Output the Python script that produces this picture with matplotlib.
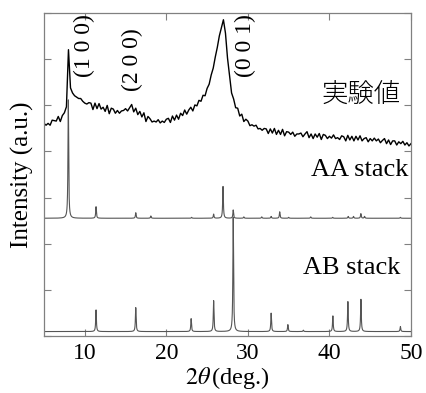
import numpy as np
import matplotlib
matplotlib.use("Agg")
import matplotlib.pyplot as plt

plt.rcParams['font.family'] = ['Liberation Serif', 'DejaVu Serif']
plt.rcParams['mathtext.fontset'] = 'stix'

# ---------------- data ----------------
# experimental pattern, 2theta from 5 to 50 deg in 0.25 deg steps
exp_start, exp_step = 5.0, 0.25
exp_y = [
    4.56, 4.61, 4.58, 4.63, 4.66, 4.62, 4.69, 4.72, 4.70, 4.77,
    4.84, 4.97, 6.21, 5.38, 5.23, 5.26, 5.15, 5.17, 5.09, 5.13,
    5.03, 5.08, 5.02, 5.04, 4.97, 5.02, 4.95, 4.99, 4.96, 4.94,
    4.90, 4.94, 4.87, 4.92, 4.88, 4.86, 4.84, 4.89, 4.86, 4.90,
    4.89, 4.93, 4.92, 4.96, 4.90, 4.92, 4.85, 4.84, 4.77, 4.79,
    4.71, 4.73, 4.67, 4.69, 4.64, 4.67, 4.63, 4.66, 4.65, 4.68,
    4.66, 4.70, 4.69, 4.72, 4.71, 4.76, 4.75, 4.79, 4.80, 4.84,
    4.85, 4.89, 4.91, 4.94, 4.98, 5.02, 5.06, 5.11, 5.18, 5.26,
    5.35, 5.49, 5.63, 5.83, 6.03, 6.29, 6.49, 6.71, 6.86, 6.55,
    6.05, 5.62, 5.30, 5.12, 4.99, 4.89, 4.80, 4.77, 4.70, 4.68,
    4.62, 4.61, 4.55, 4.57, 4.51, 4.53, 4.48, 4.51, 4.46, 4.48,
    4.45, 4.46, 4.42, 4.45, 4.41, 4.44, 4.40, 4.42, 4.39, 4.41,
    4.38, 4.40, 4.37, 4.39, 4.36, 4.39, 4.36, 4.37, 4.35, 4.37,
    4.34, 4.36, 4.33, 4.35, 4.33, 4.34, 4.32, 4.34, 4.31, 4.33,
    4.31, 4.32, 4.30, 4.32, 4.29, 4.31, 4.30, 4.30, 4.29, 4.30,
    4.28, 4.30, 4.28, 4.29, 4.27, 4.28, 4.27, 4.27, 4.25, 4.27,
    4.25, 4.26, 4.24, 4.25, 4.23, 4.24, 4.22, 4.23, 4.21, 4.22,
    4.20, 4.21, 4.19, 4.20, 4.18, 4.19, 4.17, 4.18, 4.16, 4.17,
    4.15,
]
# small scan-noise read as the band thickness of the measured trace
exp_noise = [
    0.05, -0.04, 0.03, -0.06, 0.02, 0.05, -0.03, 0.04, -0.05, 0.01,
    0.00, 0.00, 0.00, 0.00, 0.04, -0.05, 0.03, -0.02, 0.06, -0.04,
    0.02, -0.05, 0.04, 0.01, -0.06, 0.03, -0.02, 0.05, -0.04, 0.02,
    -0.03, 0.06, -0.05, 0.02, 0.04, -0.03, 0.05, -0.06, 0.02, -0.01,
    0.04, -0.05, 0.03, 0.06, -0.04, 0.02, -0.05, 0.03, -0.02, 0.05,
    -0.06, 0.03, 0.04, -0.05, 0.02, -0.03, 0.06, -0.04, 0.01, -0.05,
    0.04, 0.02, -0.06, 0.05, -0.03, 0.03, -0.05, 0.04, -0.02, 0.06,
    -0.04, 0.01, 0.05, -0.06, 0.03, -0.03, 0.05, -0.02, 0.04, -0.05,
    0.02, -0.03, 0.03, -0.02, 0.02, -0.03, 0.02, -0.02, 0.00, 0.02,
    -0.02, 0.03, -0.03, 0.02, -0.04, 0.05, -0.03, 0.04, -0.05, 0.02,
    0.04, -0.05, 0.03, -0.02, 0.06, -0.04, 0.02, -0.05, 0.04, 0.01,
    -0.06, 0.03, -0.02, 0.05, -0.04, 0.02, -0.03, 0.06, -0.05, 0.02,
    0.04, -0.03, 0.05, -0.06, 0.02, -0.01, 0.04, -0.05, 0.03, 0.06,
    -0.04, 0.02, -0.05, 0.03, -0.02, 0.05, -0.06, 0.03, 0.04, -0.05,
    0.02, -0.03, 0.06, -0.04, 0.01, -0.05, 0.04, 0.02, -0.06, 0.05,
    -0.03, 0.03, -0.05, 0.04, -0.02, 0.06, -0.04, 0.01, 0.05, -0.06,
    0.03, -0.03, 0.05, -0.02, 0.04, -0.05, 0.02, 0.05, -0.04, 0.03,
    -0.05, 0.02, 0.04, -0.06, 0.03, -0.02, 0.05, -0.04, 0.03, -0.05,
    0.02,
]

# simulated AA stack: peak positions (deg) and heights
aa_pos = [7.98, 11.38, 16.25, 18.1, 23.1, 25.8, 26.95, 28.2, 29.5, 31.7,
          32.85, 33.9, 35.0, 37.7, 40.4, 42.3, 42.95, 43.85, 44.3, 48.7]
aa_h = [2.57, 0.25, 0.12, 0.05, 0.02, 0.09, 0.69, 0.18, 0.03, 0.03,
        0.04, 0.14, 0.02, 0.03, 0.02, 0.04, 0.04, 0.10, 0.04, 0.02]
aa_base = 2.55

# simulated AB stack
ab_pos = [11.38, 16.25, 23.04, 25.8, 28.2, 32.85, 34.9, 36.8, 40.42, 42.26,
          43.86, 48.7]
ab_h = [0.47, 0.52, 0.28, 0.67, 2.48, 0.40, 0.15, 0.03, 0.34, 0.65,
        0.70, 0.11]
ab_base = 0.09

x_ticks = [10, 20, 30, 40, 50]
peak_labels = ["(1 0 0)", "(2 0 0)", "(0 0 1)"]
peak_label_x = [10.0, 15.9, 29.7]
peak_label_top = [6.98, 6.68, 6.98]

# ---------------- figure ----------------
fig = plt.figure(figsize=(4.26, 3.93), dpi=100)
ax = fig.add_axes([44 / 426, 1 - 335.7 / 393, (411 - 44) / 426, (335.7 - 13.3) / 393])

exp_x = exp_start + exp_step * np.arange(len(exp_y))
ax.plot(exp_x, np.array(exp_y) + np.array(exp_noise), color='black', lw=1.0)

grid = np.linspace(5, 50, 9001)
hw = 0.05


def profile(pos, h, base):
    y = np.full_like(grid, base)
    for p, hh in zip(pos, h):
        y += hh / (1 + ((grid - p) / hw) ** 2)
    return y


ax.plot(grid, profile(aa_pos, aa_h, aa_base), color='#555555', lw=0.8)
ax.plot(grid, profile(ab_pos, ab_h, ab_base), color='#555555', lw=0.8)

ax.set_xlim(5, 50)
ax.set_ylim(0, 7)
ax.set_xticks(x_ticks)
ax.set_yticks(range(0, 8))
ax.set_yticklabels([])
ax.tick_params(direction='in', length=5, width=0.8, color='#808080',
               top=True, right=True, labelsize=17, pad=5)
for s in ax.spines.values():
    s.set_color('#808080')
    s.set_linewidth(0.9)

ax.set_xlabel(r"$2\theta\,$(deg.)", fontsize=17.5, labelpad=1)
ax.set_ylabel("Intensity (a.u.)", fontsize=18, labelpad=2)

for lab, lx, ly in zip(peak_labels, peak_label_x, peak_label_top):
    ax.text(lx, ly, lab, rotation=90, fontsize=17, ha='center', va='top')

ax.text(48.7, 5.25, "実験値", fontsize=19, ha='right', va='center',
        fontweight='light', family=['Noto Sans CJK JP', 'DejaVu Sans'])
ax.text(49.7, 3.60, "AA stack", fontsize=19, ha='right', va='center')
ax.text(48.7, 1.47, "AB stack", fontsize=19, ha='right', va='center')

fig.savefig("out.png", dpi=100)
